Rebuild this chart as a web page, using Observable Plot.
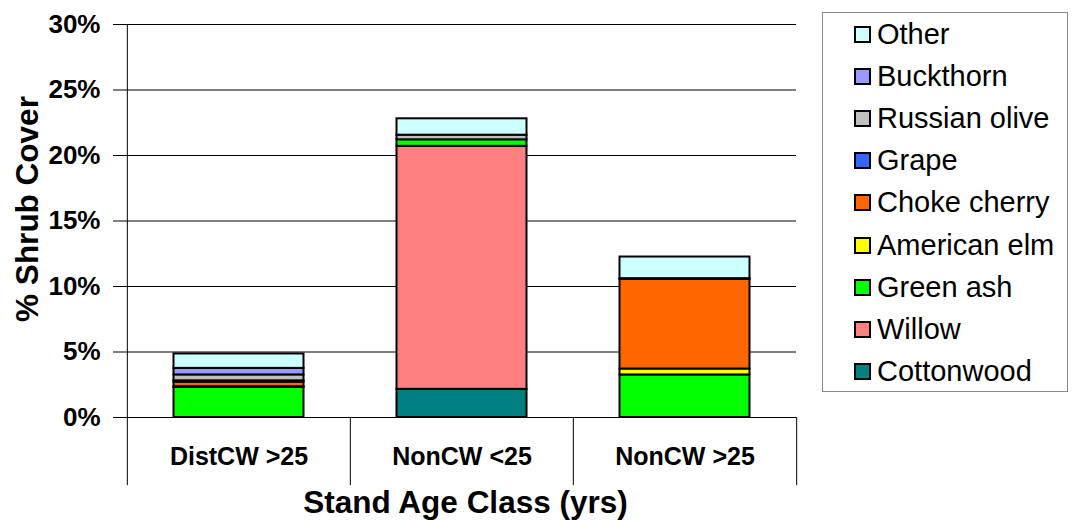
<!DOCTYPE html>
<html>
<head>
<meta charset="utf-8">
<script src="https://cdn.jsdelivr.net/npm/d3@7"></script>
<script src="https://cdn.jsdelivr.net/npm/@observablehq/plot@0.6"></script>
<style>
  body { margin: 0; background: #fff; font-family: "Liberation Sans", Arial, sans-serif; }
  #wrap { position: relative; width: 1073px; height: 520px; }
  #legend { position: absolute; left: 822px; top: 12px; width: 246px; height: 380px;
            border: 1px solid #888; box-sizing: border-box; }
  .item { height: 42.2px; display: flex; align-items: center; padding-left: 31px;
          font-size: 29px; color: #000; }
  .sw { width: 13px; height: 13px; border: 2px solid #000; margin-right: 6px; flex: none; }
</style>
</head>
<body>
<div id="wrap"><div id="chart"></div><div id="legend"></div></div>
<script>
// Categories (x axis)
const categories = ["DistCW >25", "NonCW <25", "NonCW >25"];
// Species, bottom to top of each stack
const species = ["Cottonwood", "Willow", "Green ash", "American elm", "Choke cherry",
                 "Grape", "Russian olive", "Buckthorn", "Other"];
const colors  = ["#008080", "#FF8080", "#00FF00", "#FFFF00", "#FF6600",
                 "#3366FF", "#C0C0C0", "#9999FF", "#CCFFFF"];
// % shrub cover per species, per category
const cottonwood   = [0,    2.15, 0];
const willow       = [0,    18.55, 0];
const greenAsh     = [2.3,  0.5,  3.25];
const americanElm  = [0.05, 0,    0.45];
const chokeCherry  = [0.35, 0,    6.85];
const grape        = [0.1,  0,    0.05];
const russianOlive = [0.45, 0.35, 0];
const buckthorn    = [0.5,  0,    0];
const other        = [1.1,  1.25, 1.65];
const yTicks = [0, 5, 10, 15, 20, 25, 30];
const yDomain = [0, 30];
const belowAxis = -5.2; // how far the category separators extend below 0%

const seriesValues = [cottonwood, willow, greenAsh, americanElm, chokeCherry,
                      grape, russianOlive, buckthorn, other];
const data = [];
species.forEach((s, si) => categories.forEach((c, ci) => {
  const v = seriesValues[si][ci];
  if (v > 0) data.push({cat: c, species: s, value: v});
}));

const W = 1073, H = 520, mL = 126, mR = 277, mT = 24, mB = 103;
const bw = (W - mL - mR) / categories.length;
const font = "Liberation Sans, Arial, sans-serif";

const chart = Plot.plot({
  width: W, height: H,
  marginLeft: mL, marginRight: mR, marginTop: mT, marginBottom: mB,
  style: {fontFamily: font, background: "#fff", color: "#000", overflow: "visible"},
  x: {domain: categories, padding: 0, label: null},
  y: {domain: yDomain, label: null},
  color: {domain: species, range: colors},
  marks: [
    Plot.gridY(yTicks, {stroke: "#000", strokeOpacity: 1, strokeWidth: 1}),
    Plot.barY(data, {x: "cat", y: "value", fill: "species", order: species,
      stroke: "#000", strokeWidth: 2, insetLeft: 46.5, insetRight: 46.5}),
    // y axis line (continues down through category area)
    Plot.ruleX([categories[0]], {x: d => d, dx: -bw / 2, y1: yDomain[1], y2: belowAxis, stroke: "#000"}),
    // category separators
    Plot.ruleX(categories.slice(1), {x: d => d, dx: -bw / 2, y1: 0, y2: belowAxis, stroke: "#000"}),
    Plot.ruleX([categories[categories.length - 1]], {x: d => d, dx: bw / 2, y1: 0, y2: belowAxis, stroke: "#000"}),
    Plot.axisY({ticks: yTicks, tickFormat: d => d + "%", tickSize: 13, tickPadding: 13,
      fontSize: 26, fontWeight: "bold", label: null, stroke: "#000"}),
    Plot.axisX({tickSize: 0, tickPadding: 30, fontSize: 25, fontWeight: "bold", label: null}),
    Plot.text(["Stand Age Class (yrs)"], {frameAnchor: "bottom", text: d => d, dy: 85, dx: 4,
      fontSize: 31.5, fontWeight: "bold", lineAnchor: "middle", fill: "#000"}),
    Plot.text(["% Shrub Cover"], {frameAnchor: "left", text: d => d, dx: -99, dy: -12, rotate: -90,
      fontSize: 31.5, fontWeight: "bold", lineAnchor: "middle", textAnchor: "middle", fill: "#000"})
  ]
});
document.getElementById("chart").appendChild(chart);

const legend = document.getElementById("legend");
species.slice().reverse().forEach(s => {
  const row = document.createElement("div");
  row.className = "item";
  const sw = document.createElement("span");
  sw.className = "sw";
  sw.style.background = colors[species.indexOf(s)];
  row.appendChild(sw);
  row.appendChild(document.createTextNode(s));
  legend.appendChild(row);
});
</script>
</body>
</html>
